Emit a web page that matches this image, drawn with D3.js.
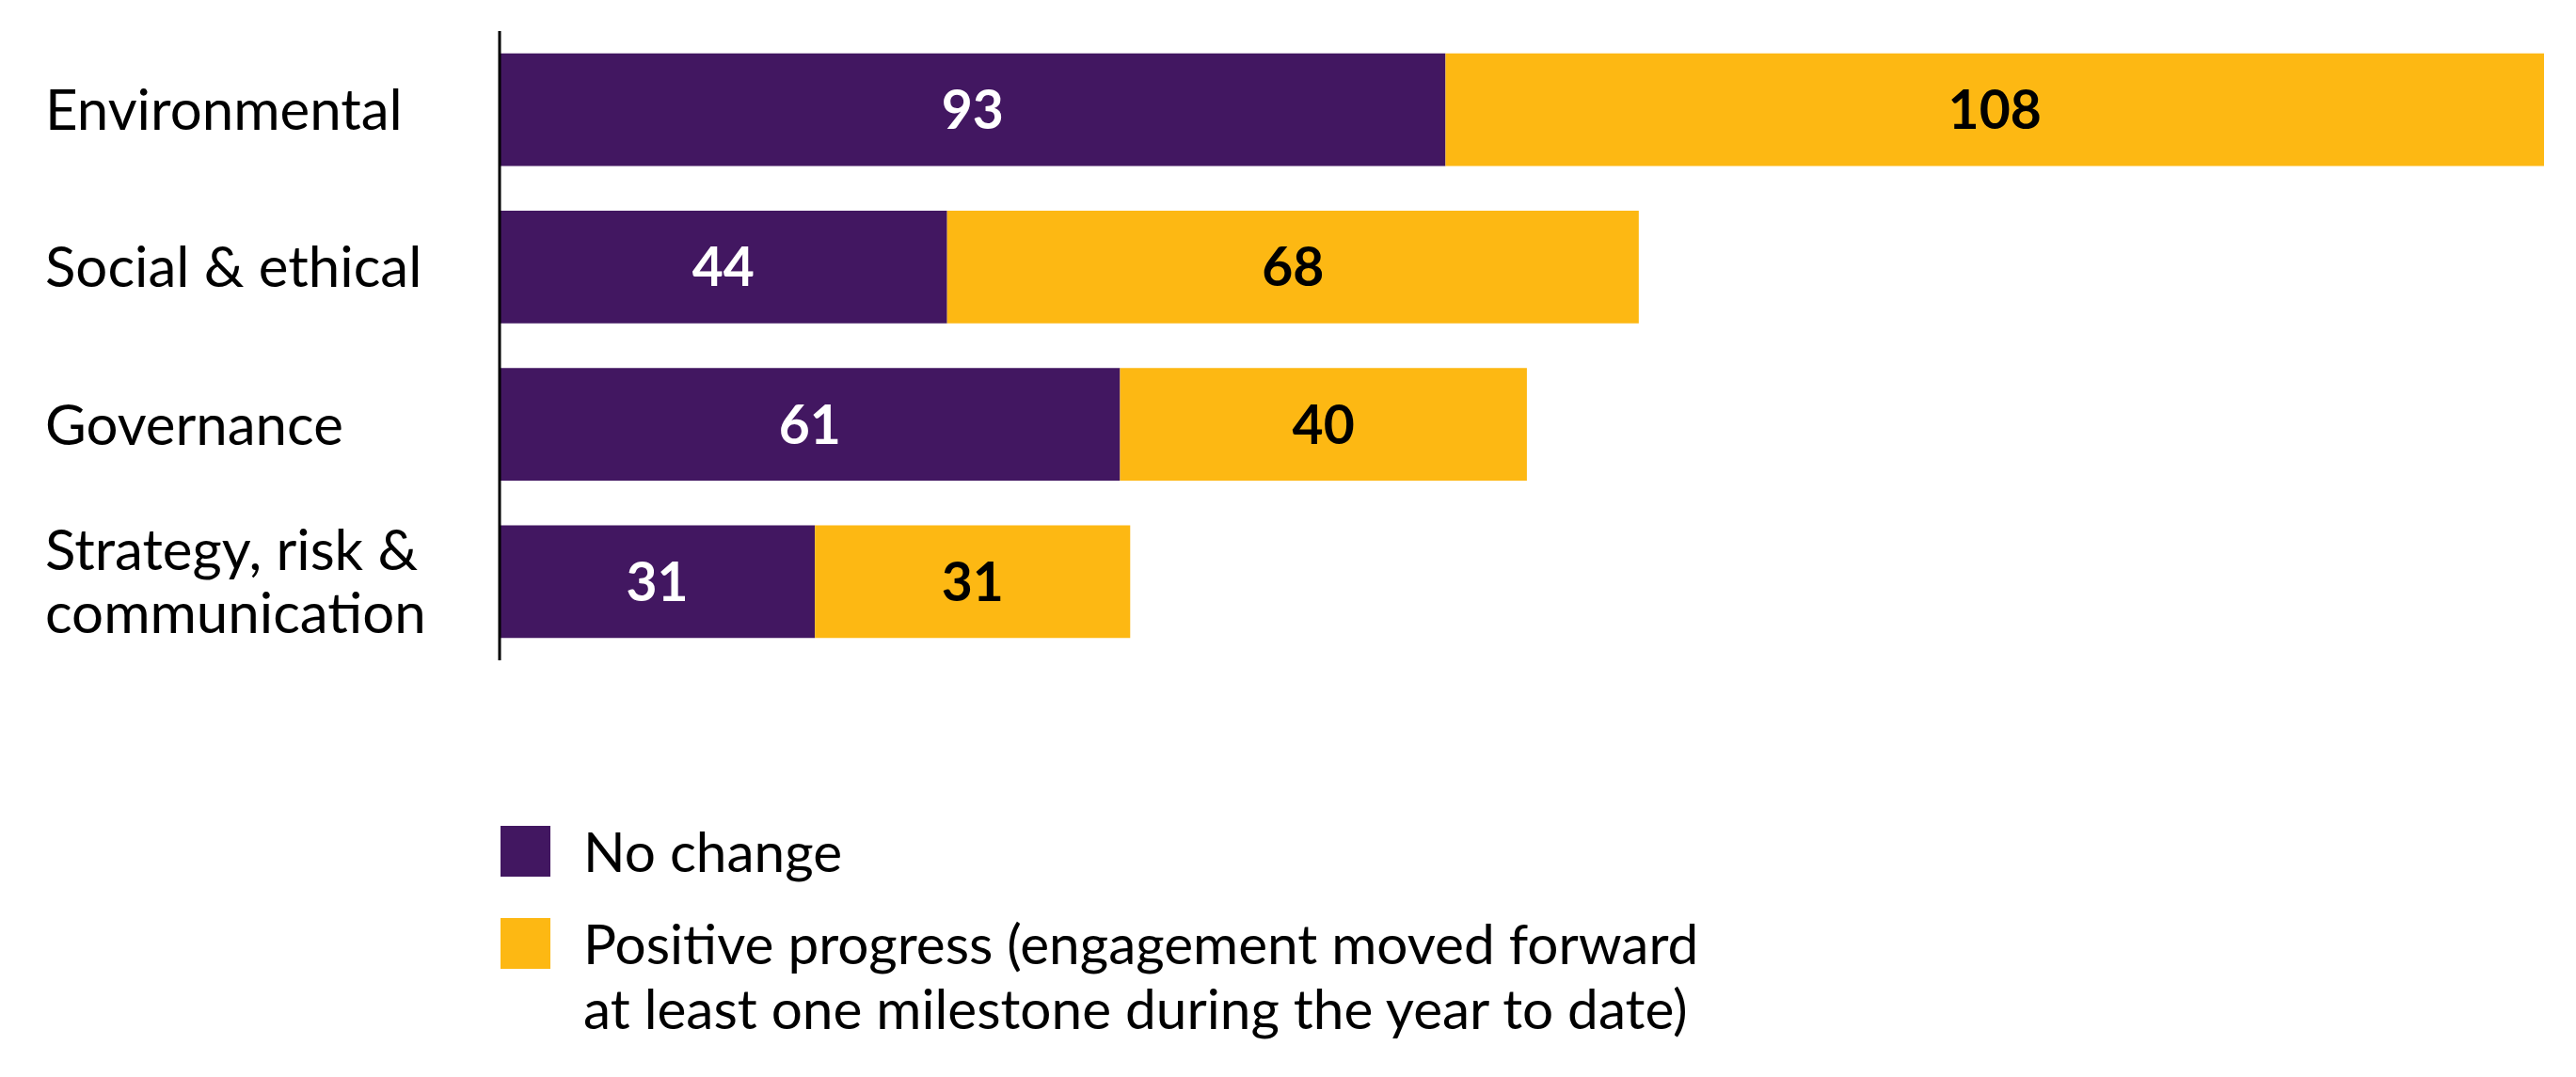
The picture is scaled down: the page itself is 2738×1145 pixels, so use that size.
<!DOCTYPE html>
<html>
<head>
<meta charset="utf-8">
<script src="https://cdn.jsdelivr.net/npm/d3@7"></script>
<style>
  html, body { margin: 0; padding: 0; background: #ffffff; }
  svg { display: block; }
</style>
</head>
<body>
<svg id="chart" width="2738" height="1145"></svg>
<script>
const categories = [
  ["Environmental"],
  ["Social & ethical"],
  ["Governance"],
  ["Strategy, risk &", "communication"]
];
const categoryKeys = ["Environmental", "Social & ethical", "Governance", "Strategy, risk & communication"];
const noChange = [93, 44, 61, 31];
const positiveProgress = [108, 68, 40, 31];
const seriesNames = ["No change", "Positive progress"];
const legendLabels = [
  ["No change"],
  ["Positive progress (engagement moved forward", "at least one milestone during the year to date)"]
];
const colors = ["#421761", "#FDB813"];
const labelColors = ["#ffffff", "#000000"];

const rows = categoryKeys.map((k, i) => ({ key: k, "No change": noChange[i], "Positive progress": positiveProgress[i] }));

const svg = d3.select("#chart");
const FONT = "Lato, 'Open Sans', sans-serif";

const x = d3.scaleLinear()
  .domain([0, d3.max(rows, d => d["No change"] + d["Positive progress"])])
  .range([531, 2704]);

const y = d3.scaleBand()
  .domain(categoryKeys)
  .range([33, 702])
  .paddingInner(0.284)
  .paddingOuter(0.142);

const stack = d3.stack().keys(seriesNames)(rows);

const groups = svg.append("g").selectAll("g")
  .data(stack)
  .join("g")
  .attr("fill", (d, i) => colors[i]);

groups.selectAll("rect")
  .data(d => d)
  .join("rect")
  .attr("x", d => x(d[0]))
  .attr("y", d => y(d.data.key))
  .attr("width", d => x(d[1]) - x(d[0]))
  .attr("height", y.bandwidth());

// value labels
stack.forEach((s, si) => {
  svg.append("g").selectAll("text")
    .data(s)
    .join("text")
    .attr("x", d => (x(d[0]) + x(d[1])) / 2)
    .attr("y", d => y(d.data.key) + y.bandwidth() / 2)
    .attr("dy", "0.36em")
    .attr("text-anchor", "middle")
    .attr("font-family", FONT)
    .attr("font-weight", 700)
    .attr("font-size", 57)
    .attr("fill", labelColors[si])
    .text(d => d[1] - d[0]);
});

// axis line (y axis without ticks)
const yAxis = d3.axisLeft(y).tickSize(0).tickFormat("");
const axisG = svg.append("g")
  .attr("transform", `translate(${x(0)},0)`)
  .call(yAxis);
axisG.select(".domain").attr("stroke", "#000").attr("stroke-width", 3)
  .attr("d", `M0,${y.range()[0]}V${y.range()[1]}`);

// category labels
const lineH = 67;
categoryKeys.forEach((k, i) => {
  const lines = categories[i];
  const cy = y(k) + y.bandwidth() / 2;
  const t = svg.append("text")
    .attr("x", 48)
    .attr("font-family", FONT)
    .attr("font-size", 60)
    .attr("fill", "#000");
  lines.forEach((ln, j) => {
    t.append("tspan")
      .attr("x", 48)
      .attr("y", cy + (j - (lines.length - 1) / 2) * lineH)
      .attr("dy", "0.36em")
      .text(ln);
  });
});

// legend
const legendY = [878, 976];
legendLabels.forEach((lines, i) => {
  svg.append("rect")
    .attr("x", 532).attr("y", legendY[i])
    .attr("width", 53).attr("height", 54)
    .attr("fill", colors[i]);
  const t = svg.append("text")
    .attr("font-family", FONT)
    .attr("font-size", 58.5)
    .attr("fill", "#000");
  lines.forEach((ln, j) => {
    t.append("tspan")
      .attr("x", 620)
      .attr("y", legendY[i] + 49 + j * 69)
      .text(ln);
  });
});
</script>
</body>
</html>
